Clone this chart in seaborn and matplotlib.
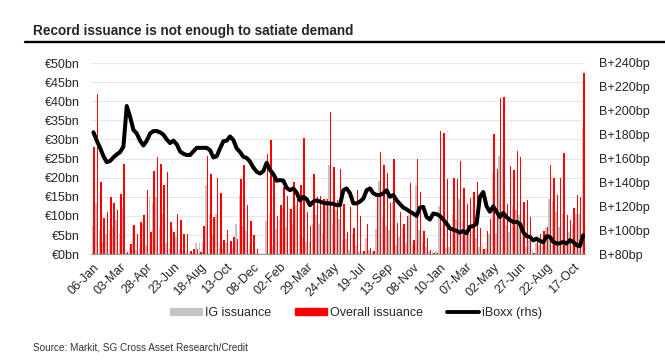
import numpy as np
import pandas as pd
import matplotlib
matplotlib.use('Agg')
import matplotlib.pyplot as plt
import seaborn as sns
from matplotlib.lines import Line2D
from matplotlib.patches import Patch

# weekly issuance (EUR bn)
overall = [28, 42, 19, 9.4, 10.9, 15, 13.3, 11.6, 15.8, 23.6,
           0.5, 2.6, 7.5, 5.3, 8.4, 10.3, 16.8, 5.8, 21.7, 25.4,
           23.6, 18.1, 21.4, 8.3, 5.8, 10.4, 8.9, 5.2, 5.3, 0.8,
           1.3, 1.3, 0.5, 7.3, 25.7, 20.9, 9.7, 19.9, 16, 3.7,
           6.3, 3.5, 4.5, 4, 19.7, 23.3, 12.8, 8.6, 5, 1.3,
           0, 0, 26.2, 29.8, 20.8, 10.1, 12.8, 17.5, 15.1, 11.9,
           18.9, 15.1, 18.2, 30.3, 11, 7.4, 20.9, 14.9, 15.2, 14.3,
           14.3, 37.1, 22.7, 14.1, 22.3, 13, 5.8, 12.4, 6.9, 16.9,
           10, 0.8, 7.9, 1.5, 0.8, 15, 26.6, 23.2, 21.1, 13.3,
           25, 8.1, 11, 8, 10, 18.5, 3.8, 25, 16.2, 6,
           4.3, 1, 0.3, 0.4, 32.2, 31.8, 19.6, 6.1, 19.9, 19.7,
           24.3, 17.2, 13, 14.7, 16.2, 18.9, 6.9, 1.3, 6, 9.3,
           31.3, 22.4, 40.8, 41.2, 13.1, 23.1, 22.1, 27, 25.5, 13.6,
           14.1, 9.7, 0.4, 3.6, 5.2, 6.1, 7.2, 23.2, 19.8, 15.4,
           20, 26.4, 10.2, 8.9, 12, 15.4, 15, 47.5]

ig = [7.3, 13.5, 6.3, 3.2, 5.2, 6.3, 7.2, 8.9, 5.6, 12.2,
      0.2, 1.9, 7.3, 1, 1.9, 7.9, 2.4, 15, 13.3, 14.9,
      7.2, 10.5, 3, 1.7, 6.5, 4.5, 1.3, 0.7, 0.3, 0.3,
      0.2, 2.9, 3, 3, 18, 10.6, 5, 10.6, 1.9, 1.5,
      2.8, 0.6, 1.5, 8, 15.4, 7.3, 6, 2.4, 0.6, 0.2,
      0.2, 0.2, 8.6, 10.6, 2.1, 6.5, 8.9, 12, 7.2, 12,
      8, 12.8, 12.4, 4.3, 3.2, 3.2, 8, 10.2, 8, 5.4,
      14.3, 23.2, 8, 11.5, 9.3, 3.7, 3.9, 1, 5.4, 2.2,
      0.6, 0.6, 4.1, 1, 0.6, 6.7, 19.2, 9.8, 7.4, 6.3,
      13.6, 2.4, 4.5, 6.9, 3, 10.2, 2.5, 18, 6.3, 3.2,
      1.9, 0.8, 0.6, 0.7, 12.7, 4.1, 1.7, 1.9, 10.4, 8.9,
      14.3, 8.6, 5, 5.4, 7.3, 4.3, 1.9, 2.1, 1.7, 5.4,
      21.1, 5.6, 25.7, 25.2, 7.6, 5.8, 12.4, 11.5, 10.2, 8.2,
      1.9, 3.7, 1.2, 2.8, 2.4, 3.7, 6.9, 14.3, 14, 11,
      7, 10.6, 3.2, 5.8, 7.6, 10.6, 10.6, 33]

# iBoxx spread (bp), rhs
iboxx = [182, 175, 169, 162, 157, 158, 161, 163.5, 165.5, 170,
         204, 195, 184, 181, 175, 171, 175, 181, 183, 183,
         182, 180, 176, 173, 175, 172, 166, 164, 163, 163,
         166, 169, 169, 169, 169, 167, 161, 162, 168.5, 174.5,
         175, 178.5, 175.5, 168.5, 165.5, 161.5, 160.5, 157.5, 152.5, 149,
         147.5, 149.5, 156.5, 150.5, 147, 141.5, 142, 141.5, 135.5, 133.5,
         135, 131.5, 125, 128, 126, 121, 124, 125, 124, 123,
         122.5, 122.5, 122, 121, 121, 133.5, 135, 131, 122.5, 122.5,
         124, 126.5, 133.5, 135, 131, 129.5, 129.5, 131, 133.5, 128,
         129.5, 125, 122, 119, 117.5, 115.5, 114, 112, 119, 119.5,
         111, 109, 114, 113.5, 112, 109, 105.5, 101.5, 100.5, 99.5,
         98, 99.5, 97.5, 103, 103.5, 105.5, 128, 132, 120, 115.5,
         120, 115.5, 111, 114.5, 111, 108.5, 107, 107, 105.5, 98.5,
         95, 94.5, 91.5, 93, 91, 90, 95, 94.5, 90.3, 89,
         89, 90.3, 89, 91.7, 90.3, 87.5, 86.7, 95.9]

tick_labels = ['06-Jan', '03-Mar', '28-Apr', '23-Jun', '18-Aug', '13-Oct', '08-Dec',
               '02-Feb', '29-Mar', '24-May', '19-Jul', '13-Sep', '08-Nov', '10-Jan',
               '07-Mar', '02-May', '27-Jun', '22-Aug', '17-Oct']

n = len(overall)
weeks = np.arange(n)
df = pd.DataFrame({'week': np.tile(weeks, 2),
                   'issuance': ig + overall,
                   'series': ['IG issuance'] * n + ['Overall issuance'] * n})

sns.set_style('white')
plt.rcParams['font.family'] = ['Liberation Sans', 'DejaVu Sans']

fig = plt.figure(figsize=(6.65, 3.6), dpi=100)
ax = fig.add_axes([0.137, 0.294, 0.743, 0.531])

# thin bars: switch off antialiasing so every bar snaps to whole pixels
sns.barplot(data=df, x='week', y='issuance', hue='series',
            hue_order=['IG issuance', 'Overall issuance'],
            palette={'IG issuance': '#c4c4c4', 'Overall issuance': '#ff0000'},
            width=0.9, saturation=1, errorbar=None, legend=False, ax=ax,
            antialiased=False, linewidth=0)

ax.set_ylim(0, 50)
ax.set_yticks(np.arange(0, 51, 5))
ax.set_yticklabels([f'€{v}bn' for v in range(0, 51, 5)], fontsize=9)
ax.yaxis.grid(True, color='#e8e8e8', lw=0.9)
ax.set_axisbelow(True)
ax.set_xlabel('')
ax.set_ylabel('')
for s in ['top', 'right', 'left']:
    ax.spines[s].set_visible(False)
ax.spines['bottom'].set_color('#9a9a9a')

ax.set_xticks(weeks[::8][:len(tick_labels)])
ax.set_xticklabels(tick_labels, rotation=45, ha='right', rotation_mode='anchor', fontsize=9)
ax.set_xticks(weeks, minor=True)
ax.tick_params(axis='x', which='both', length=3, color='#9a9a9a', pad=2)
ax.tick_params(axis='y', length=0, pad=8)

# iBoxx on the right axis
ax2 = ax.twinx()
sns.lineplot(x=weeks, y=iboxx, ax=ax2, color='black', linewidth=2.9)
ax2.set_ylim(80, 240)
ax2.set_yticks(np.arange(80, 241, 20))
ax2.set_yticklabels([f'B+{v}bp' for v in range(80, 241, 20)], fontsize=9)
ax2.tick_params(axis='y', length=0, pad=10)
ax2.set_ylabel('')
for s in ax2.spines.values():
    s.set_visible(False)
ax.set_xlim(-0.7, n - 0.4)

fig.text(33 / 665, 1 - 31 / 360, 'Record issuance is not enough to satiate demand',
         fontsize=9.8, fontweight='bold', va='center')
fig.add_artist(Line2D([25 / 665, 1], [1 - 42 / 360] * 2, color='black', lw=1.7,
                      transform=fig.transFigure))

handles = [Patch(color='#c4c4c4'), Patch(color='#ff0000'),
           Line2D([], [], color='black', lw=2.8)]
fig.legend(handles, ['IG issuance', 'Overall issuance', 'iBoxx (rhs)'],
           loc='center', bbox_to_anchor=(0.535, 1 - 313 / 360), ncol=3,
           frameon=False, fontsize=9, handlelength=2.6, handleheight=0.55,
           handletextpad=0.2, columnspacing=1.9)

fig.text(33 / 665, 1 - 348 / 360, 'Source: Markit, SG Cross Asset Research/Credit',
         fontsize=7.2, color='#333333', va='center')

fig.savefig('out.png', dpi=100, facecolor='white')
